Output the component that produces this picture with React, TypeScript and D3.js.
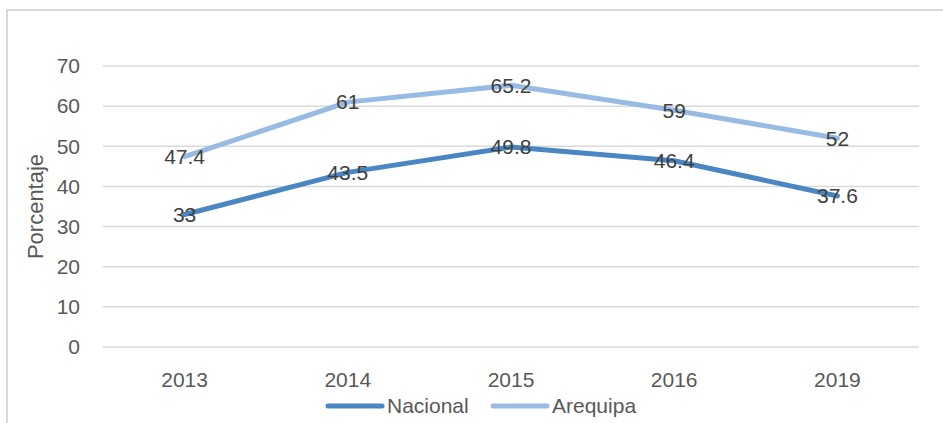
import React, { useEffect, useRef } from "react";
import * as d3 from "d3";

const years = ["2013", "2014", "2015", "2016", "2019"];
const nacional = [33, 43.5, 49.8, 46.4, 37.6];
const arequipa = [47.4, 61, 65.2, 59, 52];
const yTicks = [0, 10, 20, 30, 40, 50, 60, 70];

const series = [
  { name: "Nacional", values: nacional, color: "#4a86c1" },
  { name: "Arequipa", values: arequipa, color: "#97bbe2" },
];

const App: React.FC = () => {
  const ref = useRef<SVGSVGElement | null>(null);

  useEffect(() => {
    const svg = d3.select(ref.current);
    svg.selectAll("*").remove();

    const width = 943,
      height = 423;
    const font = "'Liberation Sans', Arial, sans-serif";
    const margin = { left: 103, right: 24, top: 66, bottom: 76 };

    // outer border (chart area frame)
    svg
      .append("rect")
      .attr("x", 7)
      .attr("y", 10)
      .attr("width", width)
      .attr("height", height)
      .attr("fill", "white")
      .attr("stroke", "#d9d9d9")
      .attr("stroke-width", 2);

    const x = d3
      .scaleBand()
      .domain(years)
      .range([margin.left, width - margin.right]);

    const y = d3
      .scaleLinear()
      .domain([0, 70])
      .range([height - margin.bottom, margin.top]);

    const cx = (d: string) => (x(d) ?? 0) + x.bandwidth() / 2;

    // gridlines
    svg
      .append("g")
      .selectAll("line")
      .data(yTicks)
      .enter()
      .append("line")
      .attr("x1", margin.left)
      .attr("x2", width - margin.right)
      .attr("y1", (d) => y(d))
      .attr("y2", (d) => y(d))
      .attr("stroke", "#d9d9d9")
      .attr("stroke-width", 1.5);

    // y tick labels
    svg
      .append("g")
      .selectAll("text")
      .data(yTicks)
      .enter()
      .append("text")
      .attr("x", 80)
      .attr("y", (d) => y(d))
      .attr("dy", "0.35em")
      .attr("text-anchor", "end")
      .attr("font-family", font)
      .attr("font-size", 21)
      .attr("fill", "#595959")
      .text((d) => d);

    // x tick labels
    svg
      .append("g")
      .selectAll("text")
      .data(years)
      .enter()
      .append("text")
      .attr("x", (d) => cx(d))
      .attr("y", 380)
      .attr("dy", "0.35em")
      .attr("text-anchor", "middle")
      .attr("font-family", font)
      .attr("font-size", 21)
      .attr("fill", "#595959")
      .text((d) => d);

    // y axis title
    svg
      .append("text")
      .attr("transform", `translate(35,${(y(0) + y(70)) / 2}) rotate(-90)`)
      .attr("dy", "0.35em")
      .attr("text-anchor", "middle")
      .attr("font-family", font)
      .attr("font-size", 22)
      .attr("fill", "#595959")
      .text("Porcentaje");

    const line = d3
      .line<number>()
      .x((_, i) => cx(years[i]))
      .y((d) => y(d));

    series.forEach((s) => {
      svg
        .append("path")
        .datum(s.values)
        .attr("d", line)
        .attr("fill", "none")
        .attr("stroke", s.color)
        .attr("stroke-width", 5)
        .attr("stroke-linecap", "round")
        .attr("stroke-linejoin", "round");
    });

    // data labels
    series.forEach((s) => {
      svg
        .append("g")
        .selectAll("text")
        .data(s.values)
        .enter()
        .append("text")
        .attr("x", (_, i) => cx(years[i]))
        .attr("y", (d) => y(d))
        .attr("dy", "0.35em")
        .attr("text-anchor", "middle")
        .attr("font-family", font)
        .attr("font-size", 21)
        .attr("fill", "#404040")
        .text((d) => d);
    });

    // legend
    const legendX = [328, 493];
    const legend = svg.append("g");
    series.forEach((s, i) => {
      legend
        .append("line")
        .attr("x1", legendX[i])
        .attr("x2", legendX[i] + 54)
        .attr("y1", 406)
        .attr("y2", 406)
        .attr("stroke", s.color)
        .attr("stroke-width", 5)
        .attr("stroke-linecap", "round");
      legend
        .append("text")
        .attr("x", legendX[i] + 59)
        .attr("y", 406)
        .attr("dy", "0.35em")
        .attr("font-family", font)
        .attr("font-size", 21)
        .attr("fill", "#595959")
        .text(s.name);
    });
  }, []);

  return (
    <svg
      ref={ref}
      width={943}
      height={423}
      style={{ position: "absolute", left: 0, top: 0 }}
    ></svg>
  );
};

export default App;
